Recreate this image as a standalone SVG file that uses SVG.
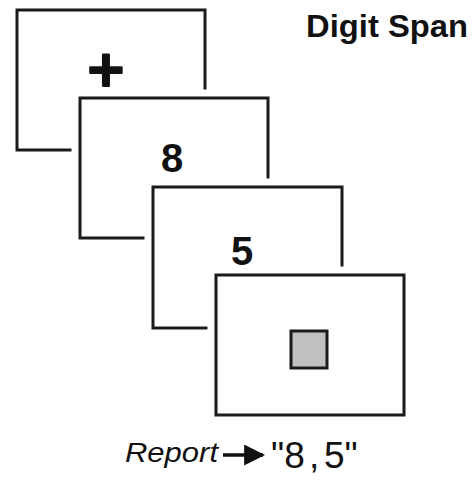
<svg xmlns="http://www.w3.org/2000/svg" width="475" height="480" viewBox="0 0 475 480">
  <defs>
    <style>
      .halo { fill: #ffffff; stroke: #ffffff; stroke-width: 17; }
      .frame { fill: #ffffff; stroke: #1a1a1a; stroke-width: 3; }
      .digit { font-family: "Liberation Sans", Arial, sans-serif; font-weight: bold; font-size: 40px; fill: #111; text-anchor: middle; }
      .title { font-family: "Liberation Sans", Arial, sans-serif; font-weight: bold; font-size: 31px; fill: #111; }
    </style>
    <marker id="head" viewBox="0 0 10 10" refX="9" refY="5" markerWidth="6" markerHeight="6" orient="auto" markerUnits="strokeWidth">
      <path d="M0,0 L10,5 L0,10 z" fill="#111"/>
    </marker>
  </defs>

  <rect width="475" height="480" fill="#ffffff"/>

  <text class="title" x="306" y="37" textLength="162" lengthAdjust="spacingAndGlyphs">Digit Span</text>

  <!-- fixation frame -->
  <g id="frame-fixation">
    <rect class="halo" x="17" y="10" width="188" height="140"/>
    <rect class="frame" x="17" y="10" width="188" height="140"/>
    <text x="106" y="86" font-family="DejaVu Sans, sans-serif" font-weight="bold" font-size="50" text-anchor="middle" fill="#111" stroke="#111" stroke-width="2.2" stroke-linejoin="round">+</text>
  </g>

  <!-- first digit -->
  <g id="frame-digit-8">
    <rect class="halo" x="80" y="98" width="188" height="140"/>
    <rect class="frame" x="80" y="98" width="188" height="140"/>
    <text class="digit" x="172" y="172">8</text>
  </g>

  <!-- second digit -->
  <g id="frame-digit-5">
    <rect class="halo" x="153" y="187" width="189" height="141"/>
    <rect class="frame" x="153" y="187" width="189" height="141"/>
    <text class="digit" x="242" y="265">5</text>
  </g>

  <!-- response cue -->
  <g id="frame-cue">
    <rect class="halo" x="216" y="275" width="188" height="140"/>
    <rect class="frame" x="216" y="275" width="188" height="140"/>
    <rect x="291" y="331" width="36" height="37" fill="#c0c0c0" stroke="#1a1a1a" stroke-width="3"/>
  </g>

  <!-- report line -->
  <g id="report">
    <text x="125" y="462" font-family="Liberation Sans, Arial, sans-serif" font-style="italic" font-size="27" fill="#111" textLength="93" lengthAdjust="spacingAndGlyphs">Report</text>
    <text y="468" font-family="Liberation Sans, Arial, sans-serif" font-size="37" fill="#111"><tspan x="271">"8</tspan><tspan x="309">,</tspan><tspan x="324">5"</tspan></text>
  </g>

  <g id="connectors">
    <line x1="223" y1="455" x2="263" y2="455" stroke="#111" stroke-width="3.5" marker-end="url(#head)"/>
  </g>
</svg>
